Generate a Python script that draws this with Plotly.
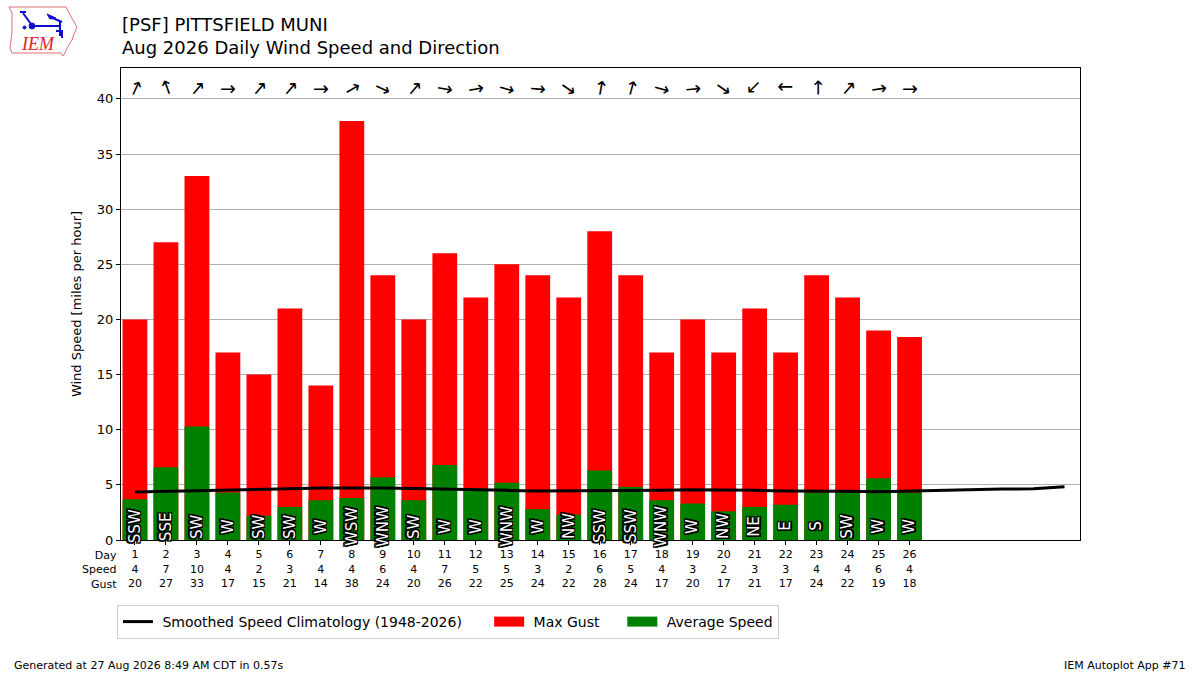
import plotly.graph_objects as go

# daily data, Aug 2026
days = list(range(1, 27))
avg_speed = [3.7, 6.6, 10.3, 4.3, 2.2, 3.0, 3.6, 3.8, 5.7, 3.6, 6.8, 4.7, 5.2,
             2.8, 2.3, 6.3, 4.8, 3.6, 3.3, 2.6, 3.0, 3.2, 4.3, 4.3, 5.6, 4.3]
max_gust = [20, 27, 33, 17, 15, 21, 14, 38, 24, 20, 26, 22, 25,
            24, 22, 28, 24, 17, 20, 17, 21, 17, 24, 22, 19, 18.4]
speed_lbl = [4, 7, 10, 4, 2, 3, 4, 4, 6, 4, 7, 5, 5, 3, 2, 6, 5, 4, 3, 2, 3, 3, 4, 4, 6, 4]
gust_lbl = [20, 27, 33, 17, 15, 21, 14, 38, 24, 20, 26, 22, 25,
            24, 22, 28, 24, 17, 20, 17, 21, 17, 24, 22, 19, 18]
dir_txt = ["SSW", "SSE", "SW", "W", "SW", "SW", "W", "WSW", "WNW", "SW", "W", "W", "WNW",
           "W", "NW", "SSW", "SSW", "WNW", "W", "NW", "NE", "E", "S", "SW", "W", "W"]
dir_deg = [205, 160, 220, 270, 220, 220, 270, 240, 295, 220, 280, 260, 285,
           275, 305, 190, 195, 285, 265, 305, 45, 90, 180, 220, 262, 270]

# smoothed climatology, day 1..31
clim_days = list(range(1, 32))
clim_speed = [4.35, 4.4, 4.45, 4.5, 4.55, 4.65, 4.72, 4.75, 4.72, 4.68, 4.6, 4.55, 4.5,
              4.45, 4.45, 4.45, 4.45, 4.5, 4.55, 4.55, 4.5, 4.45, 4.45, 4.42, 4.38,
              4.45, 4.48, 4.58, 4.62, 4.65, 4.82]

W, H = 1200, 675
L, R, T, B = 121, 1080, 68, 540
FONT = "DejaVu Sans"
NB = "\u00a0"


def px(x):
    return (x - L) / (R - L)


def py(y):
    return (B - y) / (B - T)


fig = go.Figure()
fig.add_trace(go.Bar(x=days, y=max_gust, name="Max Gust", marker_color="#ff0000",
                     marker_line_width=0, width=0.8, showlegend=False, hoverinfo="y"))
fig.add_trace(go.Bar(x=days, y=avg_speed, name="Average Speed", marker_color="#008000",
                     marker_line_width=0, width=0.8, showlegend=False, hoverinfo="y"))
fig.add_trace(go.Scatter(x=clim_days, y=clim_speed, mode="lines",
                         name=NB + "Smoothed Speed Climatology (1948-2026)" + NB * 5,
                         line=dict(color="black", width=3), legendrank=1))
# legend-only entries so the patches look like wide rectangles
fig.add_trace(go.Scatter(x=[None], y=[None], mode="lines",
                         name=NB + "Max Gust" + NB * 4,
                         line=dict(color="#ff0000", width=12), legendrank=2))
fig.add_trace(go.Scatter(x=[None], y=[None], mode="lines",
                         name=NB + "Average Speed",
                         line=dict(color="#008000", width=12), legendrank=3))

ann = []
outline = ("-1.5px -1.5px 0 #000, 1.5px -1.5px 0 #000, -1.5px 1.5px 0 #000, "
           "1.5px 1.5px 0 #000, 0 1.5px 0 #000, 0 -1.5px 0 #000, "
           "1.5px 0 0 #000, -1.5px 0 0 #000")
for d, txt, deg in zip(days, dir_txt, dir_deg):
    ang = (deg + 90) % 360
    if ang > 180:
        ang -= 360
    ann.append(dict(x=d, y=41.0, xref="x", yref="y", text="→", showarrow=False,
                    textangle=ang, font=dict(family=FONT, size=19, color="black")))
    ann.append(dict(x=d, y=1.25, xref="x", yref="y", text=txt, showarrow=False,
                    textangle=-90,
                    font=dict(family=FONT, size=15, color="white", shadow=outline)))

ann.append(dict(x=px(119), y=py(547), xref="paper", yref="paper", xanchor="right",
                yanchor="top", align="right", showarrow=False, text="Day<br>Speed<br>Gust",
                font=dict(family=FONT, size=11, color="black")))
ann.append(dict(x=px(120), y=py(24), xref="paper", yref="paper", xanchor="left",
                yanchor="middle", showarrow=False, text="[PSF] PITTSFIELD MUNI",
                font=dict(family=FONT, size=18, color="black")))
ann.append(dict(x=px(120), y=py(48), xref="paper", yref="paper", xanchor="left",
                yanchor="middle", showarrow=False,
                text="Aug 2026 Daily Wind Speed and Direction",
                font=dict(family=FONT, size=18, color="black")))
ann.append(dict(x=px(12), y=py(665), xref="paper", yref="paper", xanchor="left",
                yanchor="middle", showarrow=False,
                text="Generated at 27 Aug 2026 8:49 AM CDT in 0.57s",
                font=dict(family=FONT, size=11, color="black")))
ann.append(dict(x=px(1188), y=py(665), xref="paper", yref="paper", xanchor="right",
                yanchor="middle", showarrow=False, text="IEM Autoplot App #71",
                font=dict(family=FONT, size=11, color="black")))
# logo text
ann.append(dict(x=px(38), y=py(44), xref="paper", yref="paper", showarrow=False,
                xanchor="center", yanchor="middle", text="<i>IEM</i>",
                font=dict(family="Liberation Serif", size=18, color="#dd2222")))

# logo: rough Iowa outline and wind vane
iowa = [(9, 7), (66, 7), (69, 13), (73, 20), (77, 27), (74, 34), (72, 40),
        (67, 48), (65, 53), (63, 56), (61, 53), (12, 53), (10, 48), (12, 33),
        (12, 13)]
path = "M " + " L ".join(f"{px(a):.4f},{py(b):.4f}" for a, b in iowa) + " Z"
shapes = [dict(type="path", path=path, xref="paper", yref="paper",
               line=dict(color="#e07070", width=1))]
blue = "#1010cc"
for (x0, y0, x1, y1) in [(32, 26, 61, 26), (60, 22, 60, 36), (56, 31, 62, 31),
                         (31, 24, 23, 13), (20, 12, 26, 12), (50, 17, 62, 22),
                         (62, 30, 62, 38)]:
    shapes.append(dict(type="line", xref="paper", yref="paper",
                       x0=px(x0), y0=py(y0), x1=px(x1), y1=py(y1),
                       line=dict(color=blue, width=2)))
shapes.append(dict(type="circle", xref="paper", yref="paper", x0=px(29), x1=px(35),
                   y0=py(29), y1=py(23), fillcolor=blue, line=dict(color=blue, width=1)))
shapes.append(dict(type="circle", xref="paper", yref="paper", x0=px(23), x1=px(26),
                   y0=py(29), y1=py(26), fillcolor=blue, line=dict(color=blue, width=1)))
shapes.append(dict(type="path", xref="paper", yref="paper",
                   path=f"M {px(47):.4f},{py(14):.4f} L {px(56):.4f},{py(18):.4f} "
                        f"L {px(50):.4f},{py(19):.4f} Z",
                   fillcolor=blue, line=dict(color=blue, width=1)))

ticktext = [f"{d}<br>{s}<br>{g}" for d, s, g in zip(days, speed_lbl, gust_lbl)]

fig.update_layout(
    width=W, height=H,
    margin=dict(l=L, r=W - R, t=T, b=H - B, autoexpand=False),
    paper_bgcolor="white", plot_bgcolor="white",
    barmode="overlay", bargap=0.2,
    font=dict(family=FONT, size=13, color="black"),
    annotations=ann, shapes=shapes,
    showlegend=True,
    legend=dict(orientation="h", x=px(117), y=py(605), xanchor="left", yanchor="top",
                bordercolor="#cccccc", borderwidth=1, bgcolor="white",
                font=dict(family=FONT, size=14), traceorder="normal",
                itemwidth=30),
    xaxis=dict(range=[0.55, 31.5], tickvals=days, ticktext=ticktext, ticks="outside",
               ticklen=4, tickcolor="black", showgrid=False, zeroline=False,
               showline=True, linecolor="black", linewidth=1, mirror=True,
               tickfont=dict(size=11), layer="above traces"),
    yaxis=dict(range=[0, 42.8], tickvals=list(range(0, 45, 5)), ticks="outside",
               ticklen=4, tickcolor="black", showgrid=True, gridcolor="#b0b0b0",
               gridwidth=1, zeroline=False, showline=True, linecolor="black",
               linewidth=1, mirror=True, layer="above traces",
               title=dict(text="Wind Speed [miles per hour]", font=dict(size=13),
                          standoff=12)),
)

fig.write_html("out.html", config={"displayModeBar": False},
               post_script="document.body.style.margin='0px';")
